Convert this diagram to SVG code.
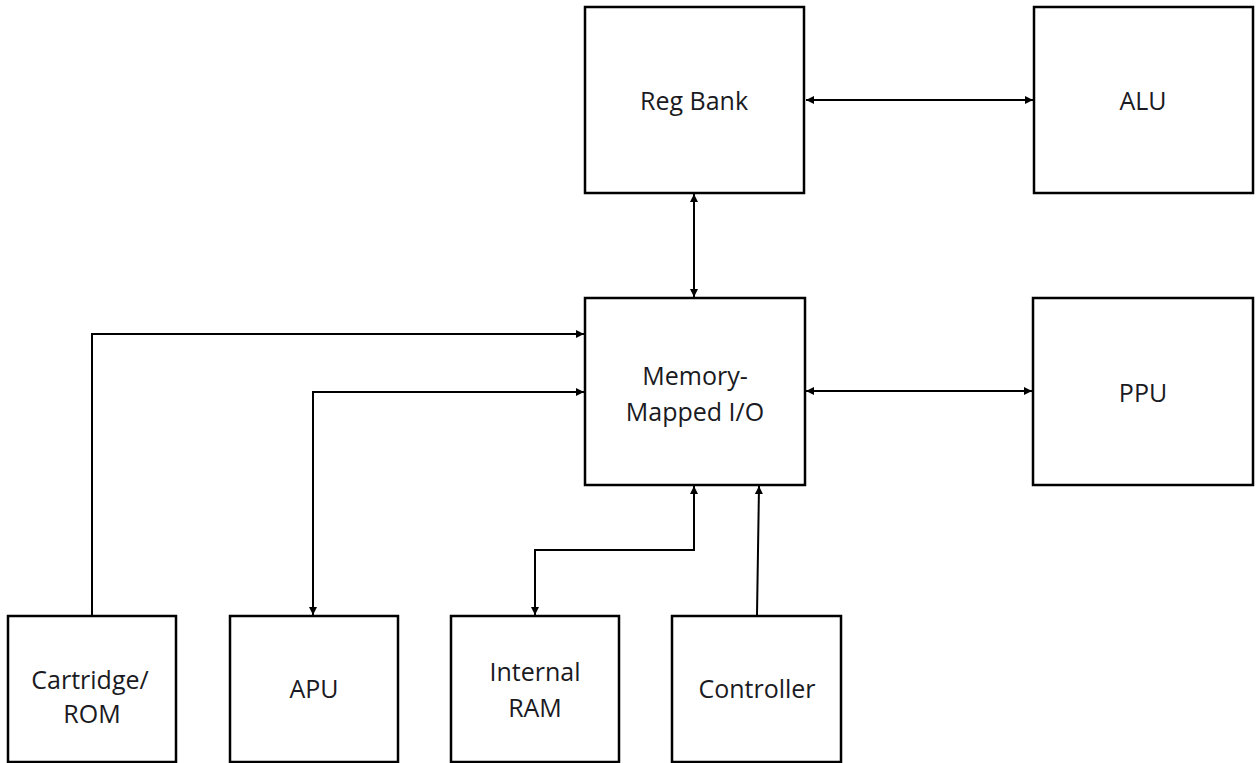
<svg xmlns="http://www.w3.org/2000/svg" width="1257" height="763" viewBox="0 0 1257 763">
<defs>
<style>
.box{fill:#fff;stroke:#000;stroke-width:2.5}
.lbl{font-family:"Open Sans","Liberation Sans",sans-serif;font-size:25px;fill:#1a1a22;text-anchor:middle}
.con{fill:none;stroke:#000;stroke-width:2}
</style>
<marker id="ah" viewBox="0 0 10 10" refX="10" refY="5" markerWidth="9" markerHeight="8" markerUnits="userSpaceOnUse" orient="auto-start-reverse">
<path d="M0,0 L10,5 L0,10 z" fill="#000"/>
</marker>
</defs>
<rect width="1257" height="763" fill="#fff"/>
<g id="regbank"><rect class="box" x="585" y="7" width="219" height="186"/><text class="lbl" x="694" y="110">Reg Bank</text></g>
<g id="alu"><rect class="box" x="1034" y="7" width="219" height="186"/><text class="lbl" x="1143" y="110">ALU</text></g>
<g id="mmio"><rect class="box" x="585" y="298" width="220" height="187"/><text class="lbl" x="695" y="385">Memory-</text><text class="lbl" x="695" y="421">Mapped I/O</text></g>
<g id="ppu"><rect class="box" x="1033" y="298" width="220" height="187"/><text class="lbl" x="1143" y="402">PPU</text></g>
<g id="cartridge"><rect class="box" x="8" y="616" width="168" height="146"/><text class="lbl" x="90" y="689">Cartridge/</text><text class="lbl" x="92" y="723">ROM</text></g>
<g id="apu"><rect class="box" x="230" y="616" width="168" height="146"/><text class="lbl" x="314" y="698">APU</text></g>
<g id="ram"><rect class="box" x="451" y="616" width="168" height="146"/><text class="lbl" x="535" y="681">Internal</text><text class="lbl" x="535" y="717">RAM</text></g>
<g id="controller"><rect class="box" x="672" y="616" width="169" height="146"/><text class="lbl" x="757" y="698">Controller</text></g>
<g id="connectors">
<path class="con" d="M806,100 H1033" marker-start="url(#ah)" marker-end="url(#ah)"/>
<path class="con" d="M694,194 V297" marker-start="url(#ah)" marker-end="url(#ah)"/>
<path class="con" d="M806,391 H1032" marker-start="url(#ah)" marker-end="url(#ah)"/>
<path class="con" d="M92,615 V334 H584" marker-end="url(#ah)"/>
<path class="con" d="M313,615 V392 H584" marker-start="url(#ah)" marker-end="url(#ah)"/>
<path class="con" d="M535,615 V550 H694 V486" marker-start="url(#ah)" marker-end="url(#ah)"/>
<path class="con" d="M757,615 L759,486" marker-end="url(#ah)"/>
</g>
</svg>
